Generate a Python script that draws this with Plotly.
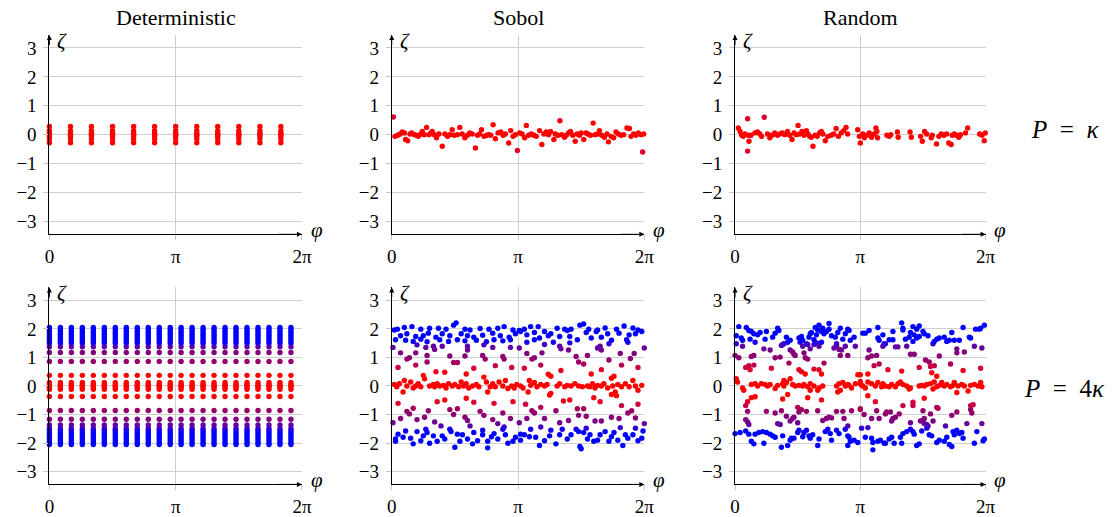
import plotly.graph_objects as go

# ---------------- data (phi in units of pi, zeta) ----------------
det_top_phi = [0, 0.167, 0.333, 0.5, 0.667, 0.833, 1.0, 1.167, 1.333, 1.5, 1.667, 1.833]
det_top_zeta = [-0.28, -0.14, -0.05, 0.0, 0.05, 0.14, 0.28]

det_bot_phi = [0, 0.087, 0.174, 0.261, 0.348, 0.435, 0.522, 0.609, 0.696, 0.783, 0.870, 0.957,
               1.043, 1.130, 1.217, 1.304, 1.391, 1.478, 1.565, 1.652, 1.739, 1.826, 1.913]
det_bot_zeta = [-2.05, -1.97, -1.89, -1.81, -1.73, -1.65, -1.57, -1.50, -1.37, -1.17, -0.86,
                -0.37, -0.12, -0.04, 0.0, 0.04, 0.12, 0.37, 0.86, 1.17, 1.37,
                1.50, 1.57, 1.65, 1.73, 1.81, 1.89, 1.97, 2.05]

sobol_top = [
    (0.013, 0.61), (0.026, -0.06), (0.047, -0.02), (0.066, 0.02), (0.084, 0.09), (0.10, 0.06),
    (0.11, -0.17), (0.126, -0.21), (0.145, 0.02), (0.158, 0.06), (0.179, 0.0), (0.197, -0.02),
    (0.21, -0.06), (0.232, 0.02), (0.242, 0.11), (0.258, 0.0), (0.276, 0.25), (0.295, 0.0),
    (0.31, 0.06), (0.321, 0.11), (0.337, 0.0), (0.355, -0.11), (0.374, 0.02), (0.40, -0.40),
    (0.421, 0.02), (0.442, -0.06), (0.461, 0.0), (0.479, 0.17), (0.495, -0.02), (0.521, 0.0),
    (0.539, 0.25), (0.558, 0.02), (0.579, -0.11), (0.60, -0.02), (0.618, 0.06), (0.637, 0.02),
    (0.663, -0.46), (0.679, -0.02), (0.697, 0.02), (0.711, 0.17), (0.732, -0.06), (0.75, -0.02),
    (0.768, 0.0), (0.784, -0.02), (0.803, 0.34), (0.821, -0.14), (0.842, 0.06), (0.863, 0.09),
    (0.882, -0.02), (0.90, 0.02), (0.926, -0.29), (0.942, 0.14), (0.961, -0.06), (0.979, 0.0),
    (0.995, -0.55), (1.013, 0.06), (1.032, 0.02), (1.053, -0.11), (1.066, 0.32), (1.084, -0.02),
    (1.105, 0.02), (1.126, -0.02), (1.145, -0.06), (1.171, 0.14), (1.189, -0.34), (1.205, 0.02),
    (1.224, 0.09), (1.242, 0.0), (1.258, 0.11), (1.284, -0.17), (1.295, 0.02), (1.316, -0.02),
    (1.332, 0.48), (1.347, 0.0), (1.368, -0.09), (1.382, -0.02), (1.40, 0.06), (1.416, 0.11),
    (1.434, -0.02), (1.453, -0.23), (1.468, 0.02), (1.487, -0.02), (1.50, 0.06), (1.521, -0.17),
    (1.539, 0.06), (1.553, 0.02), (1.574, -0.02), (1.595, 0.40), (1.611, 0.0), (1.632, 0.02),
    (1.645, 0.14), (1.663, -0.02), (1.684, -0.09), (1.705, 0.02), (1.716, -0.25), (1.737, -0.06),
    (1.758, -0.11), (1.776, 0.09), (1.795, 0.02), (1.816, -0.02), (1.837, 0.0), (1.863, 0.23),
    (1.882, 0.21), (1.895, -0.06), (1.916, 0.02), (1.934, -0.02), (1.953, 0.06), (1.974, 0.0),
    (1.995, 0.02), (1.987, -0.60),
]

random_top = [
    (0.026, 0.23), (0.04, 0.11), (0.053, -0.02), (0.066, -0.06), (0.079, 0.02), (0.10, 0.55),
    (0.106, -0.02), (0.111, -0.23), (0.10, -0.57), (0.127, -0.02), (0.159, 0.06), (0.18, 0.09),
    (0.198, 0.02), (0.212, -0.06), (0.233, 0.60), (0.259, 0.02), (0.278, -0.11), (0.296, -0.02),
    (0.317, 0.06), (0.339, -0.02), (0.357, 0.02), (0.376, 0.06), (0.397, 0.0), (0.418, 0.11),
    (0.437, -0.02), (0.455, -0.17), (0.471, 0.06), (0.489, 0.0), (0.503, 0.32), (0.516, 0.02),
    (0.534, 0.11), (0.55, -0.02), (0.569, 0.14), (0.582, 0.02), (0.595, -0.06), (0.608, -0.09),
    (0.622, -0.40), (0.64, -0.02), (0.656, -0.06), (0.675, 0.06), (0.688, 0.11), (0.701, 0.02),
    (0.72, -0.21), (0.741, -0.06), (0.767, -0.02), (0.788, 0.02), (0.807, 0.21), (0.825, -0.06),
    (0.847, 0.06), (0.868, 0.14), (0.886, 0.25), (0.899, 0.02), (0.979, 0.17), (0.992, -0.06),
    (1.0, -0.29), (1.019, 0.02), (1.032, -0.11), (1.053, -0.02), (1.071, 0.06), (1.09, -0.09),
    (1.111, 0.02), (1.124, 0.23), (1.132, 0.11), (1.138, -0.11), (1.212, -0.02), (1.23, -0.06),
    (1.243, 0.0), (1.296, 0.09), (1.302, -0.09), (1.397, 0.09), (1.407, -0.09), (1.481, -0.06),
    (1.495, -0.23), (1.513, 0.11), (1.529, 0.02), (1.566, -0.11), (1.574, -0.02), (1.608, -0.32),
    (1.627, -0.06), (1.646, 0.02), (1.667, -0.02), (1.688, 0.02), (1.706, -0.29), (1.725, -0.34),
    (1.733, -0.02), (1.751, 0.02), (1.767, -0.02), (1.786, -0.09), (1.799, 0.0), (1.839, 0.06),
    (1.857, 0.23), (1.952, 0.02), (1.971, -0.02), (1.989, -0.21), (1.997, 0.06),
]

sobol_bot = [
    # upper blue
    (0.02, 1.96), (0.045, 1.99), (0.10, 2.05), (0.16, 2.08), (0.23, 1.99), (0.30, 2.02), (0.37, 2.02),
    (0.43, 1.99), (0.49, 2.13), (0.51, 2.21), (0.58, 1.99), (0.62, 1.96), (0.70, 2.01), (0.77, 1.99),
    (0.84, 2.02), (0.89, 2.08), (0.96, 1.96), (1.01, 1.94),
    (0.07, 1.76), (0.12, 1.83), (0.19, 1.73), (0.25, 1.76), (0.29, 1.85), (0.35, 1.71), (0.40, 1.83),
    (0.46, 1.76), (0.55, 1.83), (0.60, 1.76), (0.65, 1.71), (0.72, 1.78), (0.80, 1.85), (0.86, 1.76),
    (0.93, 1.71), (0.98, 1.83),
    (0.03, 1.62), (0.11, 1.60), (0.17, 1.56), (0.23, 1.64), (0.28, 1.55), (0.38, 1.62), (0.45, 1.56),
    (0.52, 1.62), (0.58, 1.58), (0.67, 1.60), (0.75, 1.55), (0.81, 1.62), (0.88, 1.58), (0.94, 1.62),
    (1.02, 1.91), (1.05, 1.99), (1.07, 1.79), (1.10, 2.08), (1.13, 1.87), (1.16, 2.08), (1.17, 1.68),
    (1.21, 1.91), (1.24, 1.76), (1.26, 1.83), (1.28, 1.53), (1.31, 2.02), (1.33, 1.73), (1.37, 1.99),
    (1.39, 1.94), (1.41, 1.73), (1.42, 1.99), (1.47, 1.62), (1.49, 2.13), (1.52, 2.17), (1.54, 1.87),
    (1.56, 1.99), (1.58, 1.68), (1.62, 1.91), (1.63, 1.96), (1.66, 1.71), (1.69, 2.03), (1.71, 1.83),
    (1.74, 1.60), (1.78, 1.99), (1.80, 1.85), (1.84, 2.10), (1.86, 1.62), (1.88, 1.79), (1.91, 2.03),
    (1.93, 1.83), (1.95, 1.96), (1.98, 1.91), (1.87, 1.53), (1.07, 1.53), (1.13, 1.62), (1.41, 1.51),
    (1.72, 1.48),
    # upper purple
    (0.01, 1.35), (0.07, 1.16), (0.20, 1.44), (0.27, 1.35), (0.33, 1.39), (0.34, 1.28), (0.40, 1.39),
    (0.60, 1.39), (0.60, 1.26), (0.73, 1.44), (0.80, 1.35), (0.94, 1.35),
    (0.12, 0.94), (0.14, 0.99), (0.19, 1.16), (0.28, 1.07), (0.28, 0.84), (0.46, 1.05), (0.49, 0.82),
    (0.52, 0.82), (0.58, 1.05), (0.72, 1.07), (0.74, 0.94), (0.88, 1.03), (0.89, 0.94),
    (1.01, 1.33), (1.07, 1.14), (1.11, 0.94), (1.13, 0.99), (1.19, 1.16), (1.21, 1.45), (1.33, 1.39),
    (1.34, 1.30), (1.40, 1.26), (1.46, 1.03), (1.48, 0.84), (1.52, 0.77), (1.55, 1.07), (1.63, 1.33),
    (1.66, 1.26), (1.65, 1.39), (1.72, 0.91), (1.81, 1.14), (1.89, 0.96), (1.92, 1.14), (2.0, 1.33),
    # upper crimson
    (0.05, 0.65), (0.19, 0.73), (0.35, 0.50), (0.42, 0.48), (0.59, 0.42), (0.65, 0.62), (0.82, 0.71),
    (0.95, 0.65), (1.05, 0.62), (1.18, 0.73), (1.24, 0.41), (1.26, 0.34), (1.34, 0.54), (1.58, 0.42),
    (1.66, 0.57), (1.74, 0.27), (1.76, 0.34), (1.82, 0.73), (1.95, 0.65),
    # central red
    (0.02, 0.05), (0.04, -0.03), (0.06, 0.08), (0.09, -0.21), (0.10, 0.19), (0.12, 0.0), (0.15, 0.14),
    (0.17, -0.07), (0.19, 0.0), (0.21, 0.08), (0.23, -0.03), (0.25, 0.37), (0.26, 0.25), (0.30, 0.0),
    (0.33, 0.05), (0.34, -0.03), (0.36, 0.08), (0.38, 0.0), (0.41, 0.02), (0.43, -0.07), (0.45, 0.08),
    (0.48, 0.0), (0.50, 0.05), (0.53, -0.03), (0.55, 0.14), (0.57, 0.0), (0.59, 0.08), (0.61, -0.07),
    (0.64, 0.0), (0.67, 0.05), (0.69, -0.03), (0.73, 0.31), (0.75, 0.14), (0.76, -0.21), (0.78, -0.03),
    (0.80, 0.08), (0.82, -0.03), (0.85, 0.14), (0.88, 0.0), (0.90, 0.19), (0.92, -0.09), (0.95, 0.0),
    (0.97, -0.07), (0.99, 0.05),
    (1.02, 0.0), (1.04, -0.07), (1.08, -0.21), (1.10, 0.02), (1.13, 0.12), (1.15, -0.03), (1.18, 0.05),
    (1.21, 0.0), (1.23, 0.05), (1.25, -0.32), (1.26, -0.26), (1.31, 0.0), (1.33, 0.08), (1.37, -0.03),
    (1.39, 0.02), (1.42, 0.0), (1.45, 0.08), (1.48, 0.0), (1.51, -0.03), (1.55, 0.0), (1.57, -0.03),
    (1.59, 0.08), (1.61, -0.07), (1.63, 0.02), (1.66, 0.0), (1.68, 0.08), (1.71, -0.07), (1.75, 0.0),
    (1.77, -0.21), (1.74, -0.30), (1.78, -0.34), (1.79, 0.05), (1.82, -0.03), (1.85, 0.08), (1.88, -0.03),
    (1.91, 0.19), (1.93, 0.0), (1.95, -0.15), (1.98, 0.02), (1.09, 0.19),
    # lower crimson
    (0.05, -0.61), (0.36, -0.55), (0.42, -0.49), (0.59, -0.43), (0.65, -0.57), (0.81, -0.61), (0.96, -0.55),
    (1.06, -0.64), (1.36, -0.53), (1.41, -0.49), (1.60, -0.41), (1.65, -0.55), (1.82, -0.69), (1.95, -0.64),
    (1.18, -0.75),
    # lower purple
    (0.12, -0.89), (0.14, -0.98), (0.17, -0.78), (0.20, -1.18), (0.29, -0.87), (0.46, -0.83), (0.49, -1.0),
    (0.52, -0.80), (0.58, -1.10), (0.70, -0.89), (0.73, -1.03), (0.80, -1.18), (0.88, -0.95), (0.94, -1.14),
    (0.01, -1.29), (0.07, -1.14), (0.26, -1.10), (0.34, -1.26), (0.39, -1.40), (0.60, -1.21), (0.62, -1.40),
    (0.84, -1.32), (0.89, -1.44),
    (1.11, -0.87), (1.13, -0.95), (1.21, -1.14), (1.30, -0.87), (1.47, -0.80), (1.52, -0.80), (1.48, -1.03),
    (1.54, -1.06), (1.61, -1.23), (1.66, -1.23), (1.74, -1.10), (1.80, -1.14), (1.87, -0.95), (1.90, -0.87),
    (1.93, -1.12), (2.0, -1.32), (1.07, -1.14), (1.01, -1.29), (1.33, -1.29), (1.40, -1.21),
    # lower blue
    (0.03, -1.86), (0.03, -1.94), (0.05, -1.69), (0.09, -1.80), (0.11, -1.58), (0.15, -1.83), (0.17, -2.03),
    (0.20, -1.60), (0.23, -1.92), (0.25, -1.75), (0.27, -1.52), (0.28, -1.63), (0.30, -2.01), (0.33, -1.75),
    (0.36, -1.94), (0.40, -1.75), (0.42, -1.86), (0.46, -1.52), (0.47, -1.60), (0.50, -2.15), (0.52, -1.69),
    (0.54, -1.94), (0.56, -1.71), (0.60, -1.86), (0.64, -2.03), (0.65, -1.63), (0.68, -1.92), (0.72, -1.55),
    (0.72, -1.71), (0.76, -1.94), (0.76, -2.17), (0.79, -1.78), (0.81, -1.67), (0.84, -1.86), (0.88, -1.52),
    (0.90, -1.71), (0.92, -2.01), (0.96, -1.94), (0.98, -1.80), (1.02, -1.69),
    (1.02, -1.90), (1.05, -1.71), (1.09, -1.78), (1.10, -1.52), (1.14, -1.80), (1.17, -2.09), (1.18, -1.44),
    (1.21, -1.92), (1.25, -1.75), (1.26, -1.55), (1.30, -2.03), (1.33, -1.71), (1.35, -1.52), (1.39, -1.86),
    (1.42, -1.71), (1.46, -1.52), (1.48, -1.60), (1.49, -2.12), (1.50, -2.20), (1.52, -1.63), (1.54, -1.48),
    (1.55, -1.86), (1.57, -1.71), (1.60, -1.94), (1.63, -1.90), (1.65, -1.71), (1.69, -1.60), (1.72, -1.94),
    (1.74, -1.78), (1.76, -1.63), (1.79, -1.90), (1.81, -1.46), (1.83, -2.09), (1.85, -1.71), (1.87, -1.83),
    (1.91, -1.71), (1.93, -1.48), (1.95, -1.92), (1.98, -1.83), (1.99, -1.58),
]

random_bot = [
    # upper blue
    (0.01, 1.76), (0.01, 1.48), (0.03, 2.08), (0.05, 1.68), (0.06, 1.60), (0.09, 2.05), (0.11, 1.94),
    (0.13, 1.91), (0.15, 1.83), (0.16, 1.53), (0.18, 1.79), (0.20, 1.87), (0.24, 1.64), (0.25, 1.91),
    (0.30, 1.71), (0.32, 1.85), (0.34, 2.02), (0.35, 1.94), (0.37, 1.42), (0.39, 1.48), (0.41, 1.71),
    (0.42, 1.53), (0.44, 1.60), (0.51, 1.68), (0.52, 1.53), (0.53, 1.73), (0.54, 1.60), (0.57, 1.48),
    (0.59, 1.71), (0.60, 1.83), (0.61, 1.87), (0.63, 1.62), (0.64, 2.05), (0.65, 1.79), (0.66, 1.96),
    (0.67, 2.13), (0.69, 1.91), (0.70, 2.02), (0.71, 1.83), (0.73, 1.91), (0.75, 2.19), (0.75, 1.99),
    (0.77, 1.76), (0.80, 1.71), (0.81, 1.48), (0.82, 1.87), (0.84, 2.02), (0.86, 1.64), (0.88, 1.83),
    (0.90, 1.99), (0.91, 1.94), (0.92, 1.60), (0.95, 1.71), (1.02, 1.85), (0.58, 1.45), (0.12, 1.64),
    (1.04, 1.85), (1.07, 1.94), (1.14, 2.05), (1.14, 1.68), (1.15, 1.60), (1.18, 1.79), (1.20, 1.48),
    (1.23, 1.62), (1.26, 1.91), (1.26, 1.62), (1.28, 1.37), (1.30, 1.37), (1.33, 2.21), (1.34, 2.02),
    (1.34, 1.96), (1.36, 1.64), (1.37, 1.39), (1.39, 1.71), (1.40, 1.87), (1.42, 2.08), (1.42, 1.56),
    (1.43, 1.79), (1.45, 1.99), (1.45, 1.68), (1.47, 2.10), (1.47, 1.73), (1.50, 1.91), (1.51, 1.83),
    (1.54, 1.76), (1.58, 1.48), (1.59, 1.56), (1.61, 1.64), (1.63, 1.68), (1.67, 1.71), (1.69, 1.56),
    (1.71, 1.60), (1.73, 1.87), (1.75, 1.60), (1.79, 1.60), (1.82, 2.05), (1.87, 1.71), (1.88, 1.68),
    (1.92, 1.99), (1.95, 1.99), (1.96, 2.02), (1.99, 2.13),
    # upper purple
    (0.0, 1.07), (0.03, 0.99), (0.06, 1.39), (0.13, 1.03), (0.15, 1.07), (0.23, 1.30), (0.28, 1.26),
    (0.32, 0.99), (0.36, 1.01), (0.38, 1.45), (0.44, 1.26), (0.46, 1.19), (0.47, 1.11), (0.48, 1.07),
    (0.54, 1.39), (0.55, 1.16), (0.56, 0.99), (0.58, 0.94), (0.60, 1.30), (0.63, 1.45), (0.65, 1.51),
    (0.67, 1.39), (0.69, 1.53), (0.79, 1.33), (0.81, 1.42), (0.83, 1.28), (0.85, 1.26), (0.88, 1.39),
    (0.84, 1.07), (0.90, 1.07), (0.96, 1.39),
    (1.07, 1.26), (1.06, 0.99), (1.09, 1.05), (1.13, 1.07), (1.18, 1.39), (1.19, 1.48), (1.40, 1.11),
    (1.43, 1.11), (1.52, 0.91), (1.55, 0.84), (1.56, 0.68), (1.59, 0.71), (1.63, 1.05), (1.77, 1.30),
    (1.77, 1.16), (1.83, 1.19), (1.91, 1.39), (1.97, 1.33), (1.72, 0.77), (1.11, 0.71), (1.15, 0.77),
    # upper crimson
    (0.085, 0.65), (0.11, 0.71), (0.12, 0.57), (0.15, 0.73), (0.29, 0.62), (0.43, 0.80), (0.51, 0.57),
    (0.53, 0.50), (0.56, 0.42), (0.63, 0.59), (0.67, 0.57), (0.69, 0.42), (0.71, 0.80), (0.44, 0.25),
    (0.39, 0.19),
    (1.06, 0.42), (1.22, 0.57), (1.33, 0.52), (1.47, 0.65), (1.57, 0.46), (1.61, 0.34), (1.82, 0.54),
    (1.96, 0.62), (1.0, 0.39),
    # central red
    (0.01, 0.25), (0.02, 0.14), (0.06, -0.07), (0.07, -0.15), (0.13, 0.05), (0.16, 0.08), (0.18, 0.0),
    (0.21, 0.08), (0.24, 0.05), (0.26, 0.0), (0.28, 0.05), (0.34, 0.02), (0.38, 0.08), (0.39, 0.0),
    (0.41, 0.12), (0.46, 0.05), (0.48, 0.0), (0.51, 0.02), (0.54, 0.0), (0.55, 0.05), (0.58, -0.03),
    (0.60, 0.08), (0.63, 0.0), (0.66, -0.15), (0.67, -0.07), (0.70, 0.0), (0.81, 0.0), (0.83, 0.08),
    (0.84, -0.15), (0.86, 0.12), (0.88, 0.0), (0.90, 0.05), (0.91, 0.02), (0.93, -0.07), (0.96, 0.08),
    (0.98, 0.39), (1.0, 0.16), (1.02, 0.0), (0.82, -0.21), (0.60, -0.15), (0.32, -0.09),
    (1.0, 0.08), (1.01, 0.02), (1.04, -0.07), (1.06, 0.14), (1.09, 0.08), (1.12, 0.0), (1.14, 0.12),
    (1.17, -0.03), (1.18, 0.08), (1.20, 0.0), (1.23, -0.03), (1.25, 0.05), (1.28, -0.03), (1.30, 0.08),
    (1.32, 0.14), (1.34, 0.05), (1.37, 0.0), (1.39, -0.11), (1.40, -0.07), (1.47, 0.0), (1.49, 0.02),
    (1.51, 0.0), (1.53, 0.05), (1.56, 0.08), (1.58, -0.11), (1.59, 0.14), (1.61, -0.03), (1.63, 0.02),
    (1.65, 0.12), (1.67, 0.0), (1.69, 0.05), (1.72, -0.03), (1.74, 0.02), (1.75, 0.12), (1.77, -0.23),
    (1.78, 0.0), (1.81, 0.05), (1.83, 0.0), (1.86, -0.18), (1.88, 0.02), (1.91, 0.05), (1.94, 0.0),
    (1.96, 0.12), (1.97, -0.03),
    # lower crimson
    (0.085, -0.69), (0.10, -0.55), (0.13, -0.41), (0.16, -0.38), (0.38, -0.46), (0.42, -0.30),
    (0.58, -0.41), (0.69, -0.49), (0.10, -0.89),
    (1.12, -0.55), (1.34, -0.69), (1.42, -0.57), (1.42, -0.69), (1.51, -0.43), (1.61, -0.75),
    (1.88, -0.69), (1.90, -0.66), (1.06, -0.34),
    # lower purple
    (0.085, -1.18), (0.10, -1.26), (0.11, -1.35), (0.25, -0.89), (0.32, -0.95), (0.37, -0.87),
    (0.41, -1.06), (0.46, -1.14), (0.47, -1.10), (0.50, -0.75), (0.51, -0.91), (0.53, -0.83),
    (0.57, -0.89), (0.66, -0.87), (0.70, -1.21), (0.73, -1.14), (0.75, -1.10), (0.77, -1.12),
    (0.81, -0.89), (0.86, -0.89), (0.87, -1.14), (0.90, -1.40), (0.93, -0.87), (1.0, -0.83),
    (0.34, -1.32), (0.36, -1.35), (0.44, -1.23), (0.50, -1.29),
    (1.0, -0.80), (1.03, -1.0), (1.09, -1.14), (1.13, -0.87), (1.15, -1.14), (1.20, -0.98), (1.21, -0.91),
    (1.24, -0.91), (1.25, -1.23), (1.26, -1.14), (1.28, -1.10), (1.31, -0.98), (1.40, -1.29), (1.48, -1.23),
    (1.50, -1.21), (1.51, -1.14), (1.51, -1.32), (1.53, -1.35), (1.54, -1.40), (1.56, -0.98), (1.58, -1.23),
    (1.62, -0.78), (1.68, -1.40), (1.73, -1.03), (1.77, -0.91), (1.85, -1.32), (1.88, -0.83), (1.89, -0.95),
    (1.97, -1.32), (1.50, -0.87),
    # lower blue
    (0.0, -1.67), (0.04, -1.63), (0.085, -1.58), (0.11, -1.69), (0.13, -1.94), (0.15, -2.03), (0.16, -1.69),
    (0.19, -1.63), (0.22, -1.60), (0.23, -2.01), (0.25, -1.63), (0.28, -1.69), (0.30, -1.75), (0.32, -1.80),
    (0.37, -2.15), (0.38, -1.75), (0.42, -2.09), (0.44, -1.90), (0.45, -1.83), (0.47, -1.83), (0.50, -1.63),
    (0.51, -1.55), (0.54, -1.78), (0.55, -1.63), (0.57, -1.55), (0.59, -1.75), (0.60, -1.83), (0.62, -1.71),
    (0.66, -2.09), (0.67, -1.86), (0.72, -1.60), (0.74, -1.52), (0.76, -1.67), (0.77, -1.90), (0.81, -1.55),
    (0.83, -1.67), (0.88, -1.52), (0.90, -1.75), (0.91, -1.80), (0.92, -1.94), (0.95, -1.90), (0.98, -1.98),
    (0.90, -2.09),
    (1.01, -1.48), (1.04, -1.80), (1.06, -1.46), (1.09, -1.83), (1.10, -1.98), (1.10, -2.24), (1.14, -1.94),
    (1.16, -1.90), (1.19, -2.01), (1.20, -2.01), (1.23, -1.86), (1.25, -1.80), (1.27, -2.01), (1.32, -1.80),
    (1.33, -2.01), (1.34, -1.67), (1.37, -1.60), (1.40, -1.52), (1.42, -1.60), (1.43, -1.69), (1.45, -2.09),
    (1.47, -2.03), (1.49, -1.58), (1.53, -1.48), (1.55, -1.71), (1.57, -1.75), (1.61, -1.98), (1.63, -1.90),
    (1.67, -1.94), (1.69, -1.80), (1.71, -2.05), (1.73, -2.12), (1.74, -1.60), (1.75, -1.71), (1.77, -1.55),
    (1.79, -1.67), (1.81, -1.63), (1.82, -1.83), (1.91, -2.01), (1.93, -1.60), (1.98, -1.92), (1.99, -1.86),
]

col_titles = ["Deterministic", "Sobol", "Random"]
row_labels = ["<i>P</i>&#8194;=&#8194;<i>κ</i>", "<i>P</i>&#8194;=&#8194;4<i>κ</i>"]
x_tickvals = [0, 1, 2]
x_ticktext = ["0", "π", "2π"]
y_tickvals = [-3, -2, -1, 0, 1, 2, 3]
y_ticktext = ["−3", "−2", "−1", "0", "1", "2", "3"]

# ---------------- layout helpers ----------------
W, H = 1115, 517
FONT = "Liberation Serif, Times New Roman, DejaVu Serif, serif"
XDOM = [(45, 301), (392, 648), (740, 994)]   # pixel left/right of each column
YDOM = [(35.5, 238), (292, 492)]            # pixel top/bottom of each row
YR = 3.45

colorscale = [
    [0.0, "#ff0000"], [0.2, "#ff0000"], [0.32, "#d4003a"], [0.43, "#960068"],
    [0.6, "#800080"], [0.7, "#5a00aa"], [0.76, "#1a00ee"], [0.8, "#0000ff"], [1.0, "#0000ff"],
]


def px_x(p):
    return p / W


def px_y(p):
    return 1 - p / H


def grid(phis, zetas):
    xs, ys = [], []
    for p in phis:
        for z in zetas:
            xs.append(p)
            ys.append(z)
    return xs, ys


panels = [
    grid(det_top_phi, det_top_zeta),
    tuple(map(list, zip(*sobol_top))),
    tuple(map(list, zip(*random_top))),
    grid(det_bot_phi, det_bot_zeta),
    tuple(map(list, zip(*sobol_bot))),
    tuple(map(list, zip(*random_bot))),
]

fig = go.Figure()
annotations = []
layout = dict(
    width=W, height=H, autosize=False,
    margin=dict(l=0, r=0, t=0, b=0),
    paper_bgcolor="white", plot_bgcolor="white",
    showlegend=False,
    font=dict(family=FONT, size=19, color="black"),
)

for i, (xs, ys) in enumerate(panels):
    r, c = divmod(i, 3)
    idx = i + 1
    xn = "x" if idx == 1 else f"x{idx}"
    yn = "y" if idx == 1 else f"y{idx}"
    fig.add_trace(go.Scatter(
        x=xs, y=ys, xaxis=xn, yaxis=yn, mode="markers", cliponaxis=False,
        marker=dict(size=5.4, color=[abs(v) for v in ys], colorscale=colorscale,
                    cmin=0, cmax=2, showscale=False, line=dict(width=0)),
        hoverinfo="skip",
    ))
    x0, x1 = XDOM[c]
    yt, yb = YDOM[r]
    axcommon = dict(showgrid=True, gridcolor="#cfcfcf", gridwidth=1, zeroline=False,
                    showline=True, linecolor="black", linewidth=1,
                    ticks="outside", ticklen=5, tickcolor="#c8c8c8", tickwidth=1,
                    tickfont=dict(family=FONT, size=19, color="black"), fixedrange=True)
    layout["xaxis" if idx == 1 else f"xaxis{idx}"] = dict(
        domain=[px_x(x0), px_x(x1)], range=[0, 2], anchor=yn,
        tickvals=x_tickvals, ticktext=x_ticktext, ticklabelstandoff=0, **axcommon)
    layout["yaxis" if idx == 1 else f"yaxis{idx}"] = dict(
        domain=[px_y(yb), px_y(yt)], range=[-YR, YR], anchor=xn,
        tickvals=y_tickvals, ticktext=y_ticktext, ticklabelstandoff=3, **axcommon)
    # arrowheads on axes
    annotations.append(dict(x=2, y=-YR, ax=1.8, ay=-YR, xref=xn, yref=yn, axref=xn, ayref=yn,
                            showarrow=True, arrowhead=2, arrowsize=1, arrowwidth=1,
                            arrowcolor="black", text=""))
    annotations.append(dict(x=0, y=YR, ax=0, ay=YR - 0.4, xref=xn, yref=yn, axref=xn, ayref=yn,
                            showarrow=True, arrowhead=2, arrowsize=1, arrowwidth=1,
                            arrowcolor="black", text=""))
    # axis labels
    annotations.append(dict(x=px_x(x0 + 13), y=px_y(yt + 6), xref="paper", yref="paper",
                            text="<i>ζ</i>", showarrow=False,
                            font=dict(family=FONT, size=21), xanchor="center", yanchor="middle"))
    annotations.append(dict(x=px_x(x1 + 15), y=px_y(yb - 4), xref="paper", yref="paper",
                            text="<i>φ</i>", showarrow=False,
                            font=dict(family=FONT, size=21), xanchor="center", yanchor="middle"))
    if r == 0:
        annotations.append(dict(x=px_x((x0 + x1) / 2), y=px_y(18), xref="paper", yref="paper",
                                text=col_titles[c], showarrow=False,
                                font=dict(family=FONT, size=22), xanchor="center", yanchor="middle"))

for r, lab in enumerate(row_labels):
    yc = 132 if r == 0 else 395
    annotations.append(dict(x=px_x(1074), y=px_y(yc), xref="paper", yref="paper",
                            text=lab, showarrow=False,
                            font=dict(family=FONT, size=25), xanchor="center", yanchor="middle"))

layout["annotations"] = annotations
fig.update_layout(**layout)
fig.write_html(
    "out.html",
    config={"displayModeBar": False, "responsive": False},
    post_script=(
        "document.documentElement.style.overflow='hidden';"
        "document.body.style.margin='0';document.body.style.padding='0';"
        "document.body.style.overflow='hidden';"
        "var gd=document.getElementById('{plot_id}');"
        "gd.style.position='fixed';gd.style.left='0px';gd.style.top='0px';"
    ),
)
